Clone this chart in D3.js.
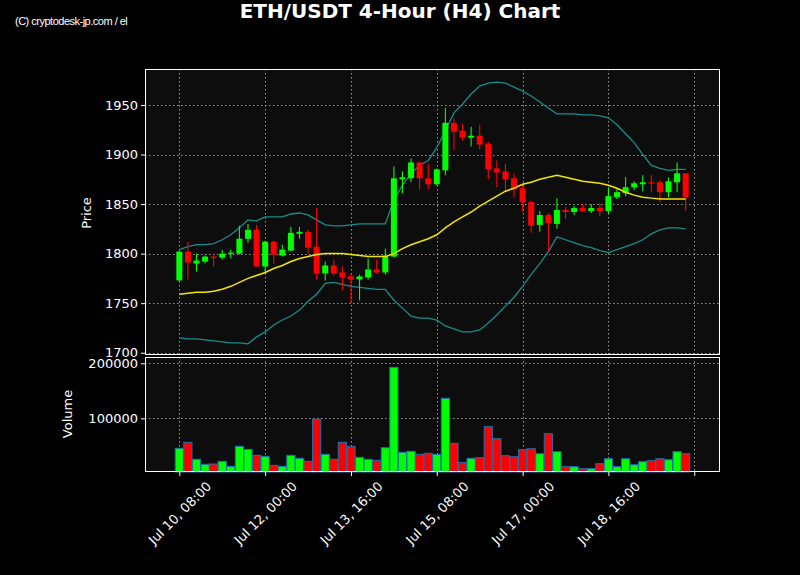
<!DOCTYPE html>
<html><head><meta charset="utf-8">
<script src="https://cdn.jsdelivr.net/npm/d3@7"></script>
<style>html,body{margin:0;padding:0;background:#000;}svg{display:block;font-family:"DejaVu Sans",sans-serif;}</style>
</head><body>
<script>
const tickLabels = ["Jul 10, 08:00","Jul 12, 00:00","Jul 13, 16:00","Jul 15, 08:00","Jul 17, 00:00","Jul 18, 16:00",""];
const openV  = [1773,1802,1790,1792,1797,1796,1800,1800,1815,1824,1787,1812,1798,1803,1820,1822,1807,1780,1788,1781,1777,1774,1776,1784,1781,1797,1875,1876,1892,1876,1870,1884,1932,1924,1917,1919,1911,1886,1883,1876,1866,1852,1829,1839,1830,1844,1842,1846,1843,1846,1843,1857,1861,1867,1870,1872,1872,1862,1872,1881];
const highV  = [1803,1812,1800,1798,1800,1804,1804,1828,1830,1829,1813,1813,1809,1827,1827,1824,1846,1792,1794,1787,1780,1779,1795,1794,1805,1888,1883,1896,1893,1891,1886,1947,1936,1931,1928,1930,1913,1894,1891,1881,1871,1853,1843,1841,1856,1847,1848,1850,1850,1851,1867,1866,1877,1873,1879,1879,1874,1877,1892,1881];
const lowV   = [1772,1774,1782,1790,1787,1794,1795,1799,1811,1787,1780,1790,1797,1803,1815,1800,1774,1773,1778,1763,1750,1753,1774,1780,1779,1796,1861,1872,1865,1865,1869,1879,1904,1914,1908,1905,1875,1867,1862,1857,1842,1821,1822,1803,1825,1835,1839,1842,1841,1838,1841,1855,1858,1864,1863,1862,1852,1857,1862,1843];
const closeV = [1802,1791,1793,1797,1796,1800,1801,1815,1824,1787,1812,1799,1804,1821,1822,1806,1780,1788,1780,1776,1774,1777,1784,1781,1798,1876,1877,1892,1876,1870,1885,1932,1923,1917,1919,1910,1885,1882,1875,1865,1852,1828,1839,1831,1844,1842,1846,1843,1846,1843,1858,1862,1867,1871,1872,1871,1862,1873,1881,1857];
const volumeV = [45500,56400,25500,16400,16900,21800,12700,49100,43600,32700,30900,14500,12700,32700,27300,21800,98200,34500,25500,56400,49100,29100,25500,23600,46500,192700,38200,40000,34500,36400,34500,136400,54500,20000,27300,28400,84800,62900,32000,30200,42900,44700,35600,72000,39300,12000,12000,8400,8400,17500,26500,12000,26500,15600,21100,22900,26500,24700,39300,35600];
const smaV   = [1759,1760,1761,1761,1762,1764,1767,1771,1775,1778,1781,1785,1788,1792,1795,1797,1799,1800,1800,1800,1799,1798,1797,1797,1797,1800,1805,1809,1812,1815,1819,1826,1832,1837,1842,1848,1853,1858,1863,1866,1870,1872,1875,1877,1879,1877,1875,1873,1872,1871,1869,1866,1862,1859,1857,1856,1855,1855,1855,1855];
const upperV = [1804,1807,1809,1809,1810,1814,1819,1826,1834,1833,1837,1837,1837,1840,1841,1839,1834,1829,1828,1828,1829,1830,1830,1830,1830,1854,1869,1881,1889,1894,1907,1924,1942,1951,1961,1969,1972,1973,1972,1968,1964,1959,1953,1947,1941,1941,1941,1940,1940,1939,1937,1930,1921,1912,1900,1889,1886,1884,1885,1885];
const lowerV = [1715,1714,1714,1713,1712,1711,1710,1710,1709,1716,1721,1728,1733,1737,1743,1752,1759,1770,1771,1769,1767,1766,1765,1764,1764,1753,1745,1737,1735,1735,1733,1727,1724,1721,1721,1723,1730,1738,1747,1756,1767,1779,1790,1802,1817,1814,1811,1808,1806,1803,1801,1804,1807,1810,1814,1820,1824,1826,1826,1825];
const priceTicks = [1700,1750,1800,1850,1900,1950];
const volTicks = [100000,200000];

const W=800,H=575;
const L=145,R=720,pTop=69,pBot=355,vTop=357,vBot=472;
const svg=d3.select("body").append("svg").attr("width",W).attr("height",H).style("background","#000");
const idx=d3.range(openV.length);
const x=d3.scaleLinear().domain([-4,63]).range([L,R]);
const y=d3.scaleLinear().domain([1697.7,1986.3]).range([pBot,pTop]);
const yv=d3.scaleLinear().domain([2400,211500]).range([vBot,vTop]);
const GREEN="#00ff00",RED="#ff0000";
const col=i=>closeV[i]>=openV[i]?GREEN:RED;
const xTickVals=d3.range(0,61,10);

// panels
[[pTop,pBot],[vTop,vBot]].forEach(([t,b])=>{
  svg.append("rect").attr("x",L).attr("y",t).attr("width",R-L).attr("height",b-t).attr("fill","#0d0d0d");
});
const gridStyle=s=>s.attr("stroke","#a8a8a8").attr("stroke-width",1).attr("stroke-dasharray","1.5,2.5").attr("opacity",0.9);
const gp=svg.append("g");
priceTicks.forEach(v=>gridStyle(gp.append("line").attr("x1",L).attr("x2",R).attr("y1",Math.round(y(v))+0.5).attr("y2",Math.round(y(v))+0.5)));
xTickVals.forEach(v=>gridStyle(gp.append("line").attr("x1",Math.round(x(v))+0.5).attr("x2",Math.round(x(v))+0.5).attr("y1",pTop).attr("y2",pBot)));
volTicks.forEach(v=>gridStyle(gp.append("line").attr("x1",L).attr("x2",R).attr("y1",Math.round(yv(v))+0.5).attr("y2",Math.round(yv(v))+0.5)));
xTickVals.forEach(v=>gridStyle(gp.append("line").attr("x1",Math.round(x(v))+0.5).attr("x2",Math.round(x(v))+0.5).attr("y1",vTop).attr("y2",vBot)));

// bands
const line=arr=>d3.line().x(i=>x(i)).y(i=>y(arr[i]));
svg.append("path").attr("d",line(upperV)(idx)).attr("fill","none").attr("stroke","#1a8c8c").attr("stroke-width",1.3);
svg.append("path").attr("d",line(lowerV)(idx)).attr("fill","none").attr("stroke","#1a8c8c").attr("stroke-width",1.3);

// candles
const cg=svg.append("g");
idx.forEach(i=>{
  const cx=x(i);
  cg.append("line").attr("x1",cx).attr("x2",cx).attr("y1",y(highV[i])).attr("y2",y(lowV[i])).attr("stroke",col(i)).attr("stroke-width",1.1);
  const t=y(Math.max(openV[i],closeV[i])), b=y(Math.min(openV[i],closeV[i]));
  cg.append("rect").attr("x",cx-3).attr("width",6).attr("y",t).attr("height",Math.max(b-t,1.2)).attr("fill",col(i));
});
svg.append("path").attr("d",line(smaV)(idx)).attr("fill","none").attr("stroke","#f2e600").attr("stroke-width",1.5);

// volume
const vg=svg.append("g");
idx.forEach(i=>{
  vg.append("rect").attr("x",x(i)-4.1).attr("width",8.2).attr("y",yv(volumeV[i])).attr("height",vBot-yv(volumeV[i])).attr("fill",col(i)).attr("stroke","#1f6fb0").attr("stroke-width",1);
});

// spines
[[pTop,pBot],[vTop,vBot]].forEach(([t,b])=>{
  svg.append("rect").attr("x",L+0.5).attr("y",t+0.5).attr("width",R-L-1).attr("height",b-t-1).attr("fill","none").attr("stroke","#fff").attr("stroke-width",1);
});

// axes
const yAxis=svg.append("g").attr("transform",`translate(${L},0)`).call(d3.axisLeft(y).tickValues(priceTicks).tickSize(4).tickFormat(d3.format("d")));
const vAxis=svg.append("g").attr("transform",`translate(${L},0)`).call(d3.axisLeft(yv).tickValues(volTicks).tickSize(4).tickFormat(d3.format("d")));
const xAxis=svg.append("g").attr("transform",`translate(0,${vBot})`).call(d3.axisBottom(x).tickValues(xTickVals).tickSize(4).tickFormat((d,k)=>tickLabels[k]));
[yAxis,vAxis,xAxis].forEach(a=>{
  a.select(".domain").remove();
  a.selectAll(".tick line").attr("stroke","#fff");
  a.selectAll("text").attr("fill","#fff").style("font-size","13px").style("font-family","DejaVu Sans");
});
yAxis.selectAll("text").attr("x",-7);
vAxis.selectAll("text").attr("x",-7);
xAxis.selectAll("text").attr("text-anchor","middle").attr("dy","0.35em").attr("y",0)
  .attr("transform","translate(0,41) rotate(-45)");

svg.append("text").attr("transform","translate(91,213) rotate(-90)").attr("text-anchor","middle").attr("fill","#fff").style("font-size","13px").text("Price");
svg.append("text").attr("transform","translate(72,414) rotate(-90)").attr("text-anchor","middle").attr("fill","#fff").style("font-size","13px").text("Volume");
svg.append("text").attr("x",400).attr("y",18).attr("text-anchor","middle").attr("fill","#fff").style("font-size","20px").style("font-weight","bold").text("ETH/USDT 4-Hour (H4) Chart");
svg.append("text").attr("x",15).attr("y",25).attr("fill","#fff").style("font-size","11px").style("font-family","Liberation Sans, Arial").style("letter-spacing","-0.5px").text("(C) cryptodesk-jp.com / el");
</script>
</body></html>
